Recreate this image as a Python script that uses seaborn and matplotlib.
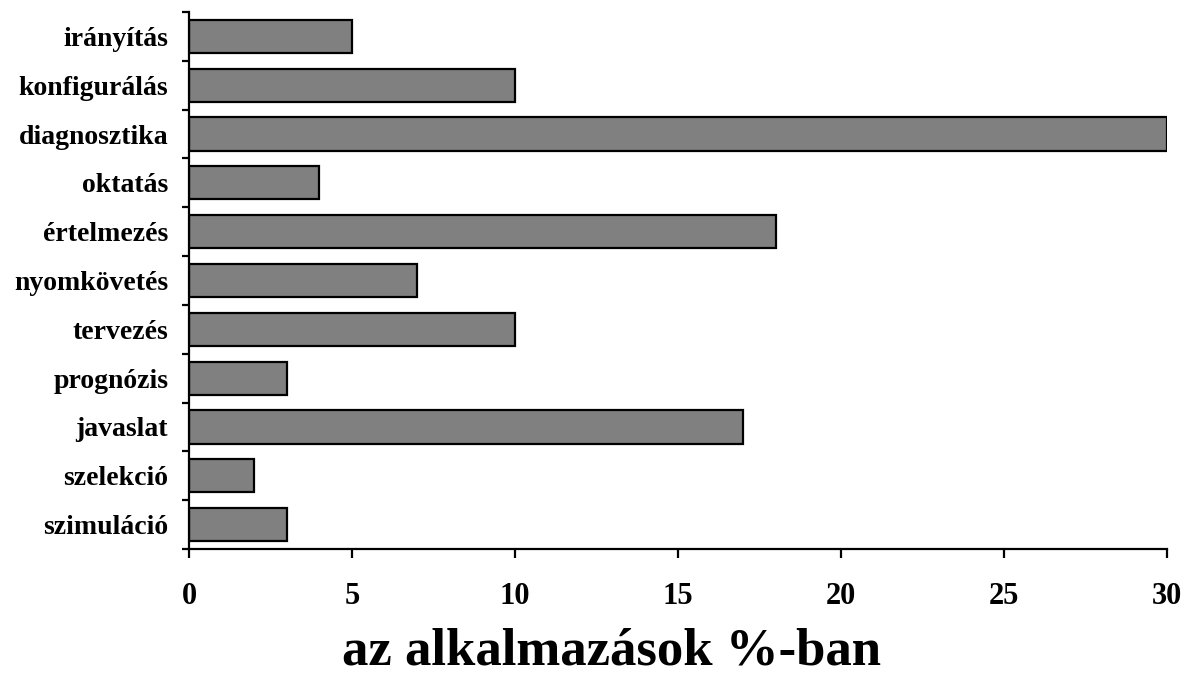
import matplotlib
matplotlib.use("Agg")
import matplotlib.pyplot as plt
import seaborn as sns
import pandas as pd
import numpy as np

categories = ["irányítás", "konfigurálás", "diagnosztika", "oktatás", "értelmezés",
              "nyomkövetés", "tervezés", "prognózis", "javaslat", "szelekció", "szimuláció"]
values = [5, 10, 30, 4, 18, 7, 10, 3, 17, 2, 3]
xticks = [0, 5, 10, 15, 20, 25, 30]
xlabel = "az alkalmazások %-ban"

sns.set_theme(style="white")
plt.rcParams['font.family'] = ['Liberation Serif', 'DejaVu Serif']
plt.rcParams['font.weight'] = 'bold'

df = pd.DataFrame({"cat": categories, "val": values})

fig = plt.figure(figsize=(11.9, 6.77), dpi=100)
ax = fig.add_axes([189/1190, 1-549/677, (1167-189)/1190, (549-12)/677])

sns.barplot(data=df, x="val", y="cat", orient="h", color="#808080", saturation=1,
            width=0.68, edgecolor="black", linewidth=1.6, ax=ax)

ax.set_xlim(0, 30)
ax.set_ylim(len(categories)-0.5, -0.5)
ax.set_xticks(xticks)
ax.set_xticklabels([str(t) for t in xticks], fontsize=22, fontweight='bold', color='black')
ax.set_yticks(range(len(categories)))
ax.set_yticklabels(categories, fontsize=20, fontweight='bold', color='black')
ax.set_yticks(np.arange(-0.5, len(categories), 1.0), minor=True)
ax.tick_params(axis='y', which='major', left=False, length=0, pad=15)
ax.tick_params(axis='y', which='minor', left=True, length=5, width=1.6, direction='out', color='black')
ax.tick_params(axis='x', which='major', bottom=True, length=6.5, width=1.6, direction='out', color='black', pad=17)
ax.set_xlabel(xlabel, fontsize=38, fontweight='bold', color='black')
ax.xaxis.set_label_coords((611-189)/978, -0.19)
ax.xaxis.label.set_va('center')
ax.set_ylabel("")
for s in ["top", "right"]:
    ax.spines[s].set_visible(False)
for s in ["left", "bottom"]:
    ax.spines[s].set_linewidth(1.6)
    ax.spines[s].set_color("black")

fig.savefig("out.png", dpi=100)
